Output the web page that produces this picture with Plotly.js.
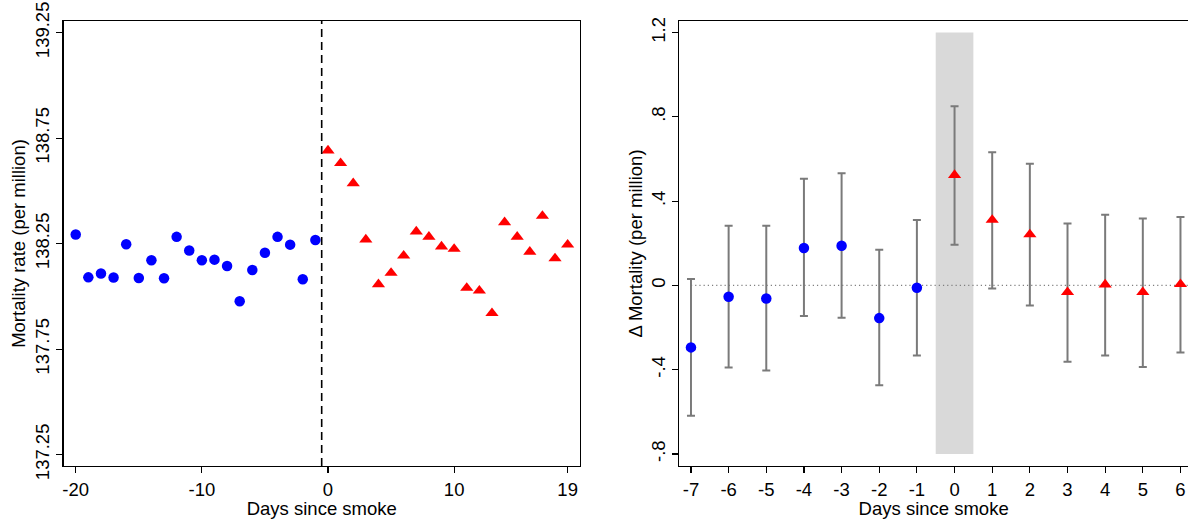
<!DOCTYPE html>
<html>
<head>
<meta charset="utf-8">
<script src="https://cdn.plot.ly/plotly-3.0.1.min.js"></script>
<style>
  html, body { margin: 0; padding: 0; background: #fff; }
  #chart { width: 1188px; height: 519px; }
</style>
</head>
<body>
<div id="chart"></div>
<script>
// Left panel: mean daily mortality rate around smoke days
const preDays  = [-20, -19, -18, -17, -16, -15, -14, -13, -12, -11, -10, -9, -8, -7, -6, -5, -4, -3, -2, -1];
const preRate  = [138.293, 138.090, 138.108, 138.089, 138.247, 138.087, 138.171, 138.086, 138.282, 138.217,
                  138.171, 138.174, 138.144, 137.977, 138.125, 138.207, 138.282, 138.245, 138.081, 138.267];
const postDays = [0, 1, 2, 3, 4, 5, 6, 7, 8, 9, 10, 11, 12, 13, 14, 15, 16, 17, 18, 19];
const postRate = [138.691, 138.631, 138.536, 138.269, 138.057, 138.111, 138.193, 138.307, 138.282, 138.236,
                  138.225, 138.040, 138.027, 137.920, 138.351, 138.282, 138.211, 138.381, 138.180, 138.245];
const leftTickVals = [-20, -10, 0, 10, 19];
const leftYTickVals = [137.25, 137.75, 138.25, 138.75, 139.25];
const leftYTickText = ['137.25', '137.75', '138.25', '138.75', '139.25'];

// Right panel: estimated change in mortality with confidence intervals
const leadDays = [-7, -6, -5, -4, -3, -2, -1];
const leadEst  = [-0.294, -0.054, -0.062, 0.178, 0.188, -0.155, -0.011];
const leadLo   = [-0.619, -0.390, -0.404, -0.145, -0.153, -0.474, -0.333];
const leadHi   = [0.030, 0.283, 0.283, 0.506, 0.532, 0.169, 0.310];
const lagDays  = [0, 1, 2, 3, 4, 5, 6];
const lagEst   = [0.524, 0.311, 0.242, -0.032, 0.004, -0.032, 0.006];
const lagLo    = [0.193, -0.014, -0.095, -0.362, -0.332, -0.387, -0.318];
const lagHi    = [0.850, 0.632, 0.577, 0.294, 0.336, 0.318, 0.325];
const rightTickVals = [-7, -6, -5, -4, -3, -2, -1, 0, 1, 2, 3, 4, 5, 6];
const rightYTickVals = [-0.8, -0.4, 0, 0.4, 0.8, 1.2];
const rightYTickText = ['-.8', '-.4', '0', '.4', '.8', '1.2'];

const BLUE = '#0000ff';
const RED = '#ff0000';
const BAR = '#7a7a7a';
const FONT = { family: 'Liberation Sans, Arial, Helvetica, sans-serif', size: 18.5, color: '#000' };

function errBars(est, lo, hi) {
  return {
    type: 'data', symmetric: false,
    array: est.map((v, i) => hi[i] - v),
    arrayminus: est.map((v, i) => v - lo[i]),
    color: BAR, thickness: 2, width: 4
  };
}

const traces = [
  { x: preDays, y: preRate, xaxis: 'x', yaxis: 'y', type: 'scatter', mode: 'markers',
    marker: { color: BLUE, size: 10.5, symbol: 'circle' }, hoverinfo: 'skip' },
  { x: postDays, y: postRate, xaxis: 'x', yaxis: 'y', type: 'scatter', mode: 'markers',
    marker: { color: RED, size: 11.5, symbol: 'triangle-up' }, hoverinfo: 'skip' },
  { x: leadDays, y: leadEst, xaxis: 'x2', yaxis: 'y2', type: 'scatter', mode: 'markers',
    error_y: errBars(leadEst, leadLo, leadHi),
    marker: { color: BLUE, size: 10.5, symbol: 'circle' }, hoverinfo: 'skip' },
  { x: lagDays, y: lagEst, xaxis: 'x2', yaxis: 'y2', type: 'scatter', mode: 'markers',
    error_y: errBars(lagEst, lagLo, lagHi),
    marker: { color: RED, size: 11.5, symbol: 'triangle-up' }, hoverinfo: 'skip' }
];

const axisBase = {
  showgrid: false, zeroline: false, showline: true, linecolor: '#000', linewidth: 1.4,
  ticks: 'outside', ticklen: 6, tickwidth: 1.2, tickcolor: '#000', tickfont: FONT
};

const layout = {
  width: 1188, height: 519,
  margin: { l: 0, r: 0, t: 21, b: 53 },
  paper_bgcolor: '#fff', plot_bgcolor: '#fff',
  showlegend: false,
  font: FONT,
  xaxis: Object.assign({}, axisBase, {
    domain: [63.5 / 1188, 580 / 1188], range: [-20.97, 19.98], mirror: true,
    tickmode: 'array', tickvals: leftTickVals, ticktext: leftTickVals.map(String),
    title: { text: 'Days since smoke', font: FONT, standoff: 0 }
  }),
  yaxis: Object.assign({}, axisBase, {
    domain: [0, 1], range: [137.196, 139.305], mirror: true, anchor: 'x',
    tickmode: 'array', tickvals: leftYTickVals, ticktext: leftYTickText, tickangle: -90,
    title: { text: 'Mortality rate (per million)', font: FONT, standoff: 1 }
  }),
  xaxis2: Object.assign({}, axisBase, {
    domain: [679.3 / 1188, 1], range: [-7.31, 6.2], mirror: true, anchor: 'y2',
    tickmode: 'array', tickvals: rightTickVals, ticktext: rightTickVals.map(String),
    title: { text: 'Days since smoke', font: FONT, standoff: 0 }
  }),
  yaxis2: Object.assign({}, axisBase, {
    domain: [0, 1], range: [-0.857, 1.255], anchor: 'x2',
    tickmode: 'array', tickvals: rightYTickVals, ticktext: rightYTickText, tickangle: -90,
    title: { text: 'Δ Mortality (per million)', font: FONT, standoff: 0 }
  }),
  shapes: [
    // smoke-day boundary on the left panel
    { type: 'line', xref: 'x', yref: 'y domain', x0: -0.5, x1: -0.5, y0: 0, y1: 1,
      line: { color: '#000', width: 1.6, dash: '8px,5px' } },
    // shaded smoke day on the right panel
    { type: 'rect', xref: 'x2', yref: 'y2', x0: -0.5, x1: 0.5, y0: -0.8, y1: 1.2,
      fillcolor: '#d9d9d9', line: { width: 0 }, layer: 'below' },
    // zero reference
    { type: 'line', xref: 'x2', yref: 'y2', x0: -7, x1: 6.2, y0: 0, y1: 0,
      line: { color: '#7f7f7f', width: 1.2, dash: '1.2px,3px' }, layer: 'below' }
  ]
};

Plotly.newPlot('chart', traces, layout, { staticPlot: true, displayModeBar: false });
</script>
</body>
</html>
